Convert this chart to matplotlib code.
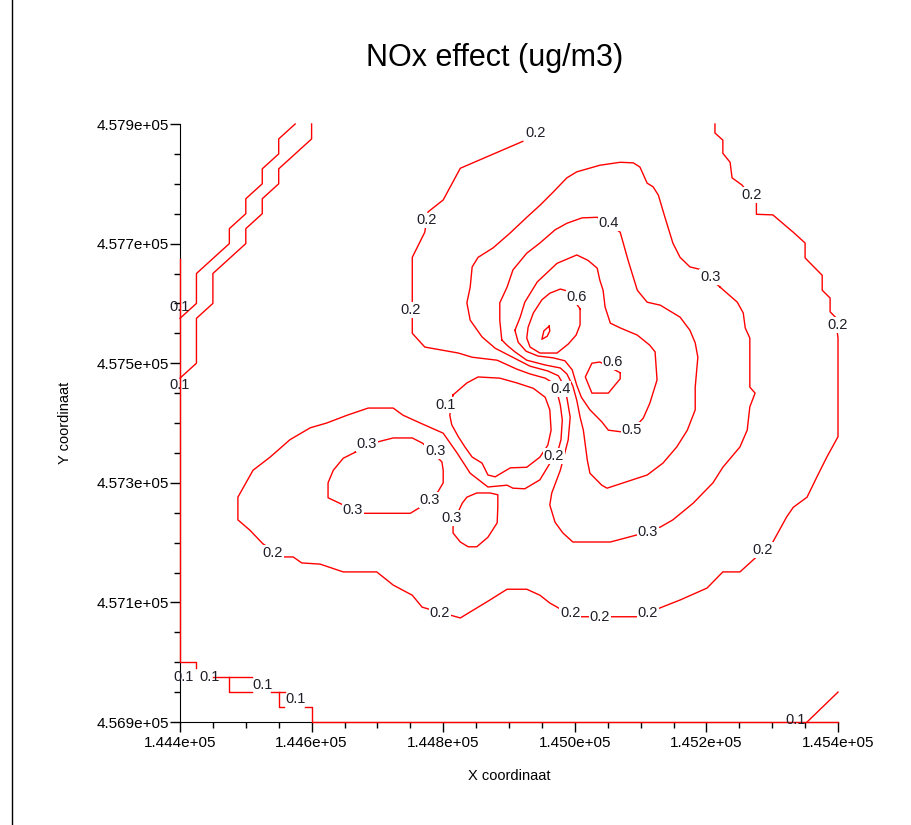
import numpy as np
import matplotlib.pyplot as plt
from matplotlib.ticker import FixedLocator, MultipleLocator, FuncFormatter
from matplotlib.lines import Line2D

plt.rcParams['font.family'] = ['Liberation Sans', 'DejaVu Sans']

# contour lines (X/Y in metres)
# 0.1 - two diagonal lines top left
c01a_x = [144400, 144425, 144425, 144440, 144475, 144475, 144500, 144500, 144525, 144525, 144550, 144550, 144575]
c01a_y = [457575, 457600, 457650, 457665, 457700, 457725, 457750, 457775, 457800, 457825, 457850, 457875, 457900]
c01b_x = [144400, 144425, 144425, 144450, 144450, 144500, 144500, 144525, 144525, 144550, 144550, 144575, 144600, 144600]
c01b_y = [457475, 457500, 457575, 457600, 457650, 457700, 457725, 457750, 457775, 457800, 457825, 457850, 457875, 457900]

# 0.1 - along the left edge and stairs at bottom left
c01c_x = [144400, 144400, 144425, 144425]
c01c_y = [457675, 457000, 457000, 456990]
c01d_x = [144450, 144510]
c01d_y = [456975, 456975]
c01e_x = [144475, 144475, 144510]
c01e_y = [456975, 456950, 456950]
c01f_x = [144539, 144560]
c01f_y = [456950, 456950]
c01g_x = [144550, 144550, 144558]
c01g_y = [456950, 456925, 456925]
c01h_x = [144590, 144600, 144600, 145400]
c01h_y = [456925, 456925, 456900, 456900]
c01i_x = [145353, 145400]
c01i_y = [456900, 456950]

# 0.1 - closed loop in the middle
c01_loop_x = [144815, 144836, 144853, 144886, 144912, 144937, 144955, 144962, 144964, 144959, 144947,
              144927, 144902, 144879, 144868, 144859, 144844, 144833, 144823, 144813, 144810, 144815]
c01_loop_y = [457447, 457467, 457477, 457475, 457467, 457458, 457443, 457422, 457388, 457363, 457343,
              457326, 457325, 457310, 457313, 457333, 457343, 457360, 457377, 457397, 457413, 457447]

# 0.2 - the long outer line
c02_x = [144921, 144826, 144800, 144777, 144772, 144753, 144753, 144753, 144772, 144823,
         144844, 144882, 144912, 144932, 144955, 144967, 144973, 144978, 144981, 144979,
         144975, 144958, 144947, 144924, 144906, 144897, 144868, 144841, 144821, 144800,
         144765, 144739, 144724, 144686, 144654, 144623, 144598, 144567, 144537, 144511,
         144488, 144488, 144506, 144526, 144557, 144572, 144585, 144613, 144648, 144699,
         144724, 144753, 144768, 144826, 144871, 144897, 144927, 144947, 144962, 144978,
         145000, 145099, 145130, 145160, 145201, 145225, 145251, 145271, 145301, 145322,
         145332, 145353, 145368, 145383, 145400, 145400, 145396, 145388, 145388, 145376,
         145376, 145350, 145350, 145332, 145301, 145276, 145276, 145254, 145239, 145236,
         145225, 145225, 145213, 145213]
c02_y = [457871, 457826, 457773, 457753, 457719, 457677, 457606, 457550, 457527, 457517,
         457510, 457505, 457490, 457482, 457475, 457467, 457452, 457430, 457405, 457372,
         457356, 457325, 457305, 457290, 457291, 457296, 457293, 457316, 457350, 457383,
         457400, 457413, 457425, 457425, 457413, 457400, 457392, 457372, 457343, 457321,
         457276, 457238, 457221, 457198, 457176, 457176, 457166, 457164, 457151, 457151,
         457129, 457112, 457092, 457074, 457104, 457122, 457122, 457112, 457099, 457089,
         457076, 457076, 457091, 457104, 457124, 457151, 457151, 457171, 457201, 457243,
         457259, 457276, 457310, 457343, 457377, 457542, 457577, 457586, 457609, 457622,
         457647, 457676, 457701, 457719, 457748, 457749, 457769, 457798, 457810, 457836,
         457851, 457873, 457885, 457900]

# 0.3 - left loop, small loop, big loop round the peaks
c03_left_x = [144666, 144699, 144724, 144753, 144769, 144798, 144800, 144800, 144792,
              144765, 144750, 144678, 144648, 144625, 144625, 144633, 144648, 144666]
c03_left_y = [457351, 457368, 457375, 457375, 457366, 457335, 457321, 457300, 457285,
              457259, 457249, 457249, 457263, 457275, 457300, 457321, 457341, 457351]
c03_small_x = [144815, 144815, 144826, 144838, 144851, 144868, 144882, 144883, 144883,
               144871, 144851, 144836, 144829, 144815]
c03_small_y = [457233, 457216, 457201, 457193, 457193, 457209, 457233, 457259, 457280,
               457283, 457283, 457276, 457266, 457233]
c03_x = [145221, 145247, 145256, 145259, 145266, 145266, 145274, 145266, 145262, 145251,
         145225, 145210, 145180, 145149, 145130, 145095, 145054, 144997, 144982, 144970,
         144962, 144965, 144978, 144990, 144993, 144988, 144984, 144975, 144959, 144932,
         144902, 144879, 144859, 144841, 144836, 144841, 144844, 144853, 144876, 144902,
         144927, 144947, 144967, 144988, 145003, 145038, 145069, 145089, 145099, 145110,
         145119, 145127, 145137, 145149, 145160, 145175, 145190, 145221]
c03_y = [457627, 457602, 457584, 457559, 457542, 457460, 457450, 457427, 457388, 457360,
         457326, 457300, 457266, 457238, 457226, 457213, 457201, 457201, 457216, 457234,
         457263, 457283, 457321, 457372, 457410, 457442, 457462, 457479, 457487, 457495,
         457512, 457525, 457544, 457572, 457601, 457627, 457661, 457677, 457693, 457718,
         457744, 457764, 457786, 457810, 457820, 457831, 457836, 457835, 457828, 457801,
         457795, 457781, 457744, 457701, 457677, 457661, 457657, 457627]

# 0.4
c04_x = [144889, 144897, 144909, 144927, 144955, 144978, 144988, 144997, 145003, 145008,
         145013, 145019, 145023, 145041, 145049, 145096, 145110, 145134, 145155, 145171,
         145183, 145183, 145187, 145183, 145175, 145160, 145130, 145110, 145095, 145081,
         145069, 145052, 145034, 145011, 144988, 144970, 144947, 144927, 144906, 144897,
         144886, 144886, 144889]
c04_y = [457539, 457530, 457519, 457505, 457497, 457492, 457482, 457462, 457438, 457410,
         457388, 457338, 457316, 457296, 457291, 457308, 457313, 457333, 457360, 457388,
         457422, 457460, 457510, 457534, 457555, 457577, 457597, 457602, 457622, 457672,
         457719, 457733, 457744, 457743, 457734, 457723, 457701, 457684, 457656, 457627,
         457601, 457572, 457539]

# 0.5
c05_x = [144909, 144914, 144926, 144944, 144967, 144985, 144996, 145003, 145010, 145023,
         145041, 145051, 145072, 145087, 145104, 145114, 145125, 145122, 145114, 145095,
         145069, 145054, 145046, 145043, 145038, 145034, 145020, 145003, 144973, 144943,
         144924, 144917, 144909]
c05_y = [457555, 457535, 457520, 457512, 457509, 457504, 457489, 457463, 457443, 457422,
         457402, 457388, 457385, 457388, 457408, 457433, 457472, 457519, 457530, 457547,
         457559, 457567, 457594, 457622, 457639, 457659, 457672, 457681, 457667, 457636,
         457602, 457577, 457555]

# 0.6 - two peaks, plus the small unlabelled ring on the upper one
c06a_x = [145008, 145008, 145002, 144990, 144973, 144947, 144932, 144927, 144929, 144937,
          144950, 144962, 144978, 144988, 145008]
c06a_y = [457591, 457564, 457547, 457532, 457517, 457517, 457527, 457542, 457560, 457584,
          457606, 457617, 457624, 457621, 457591]
c06b_x = [145069, 145069, 145051, 145026, 145016, 145026, 145038, 145069]
c06b_y = [457484, 457474, 457450, 457450, 457477, 457500, 457502, 457484]
c07_x = [144961, 144953, 144950, 144958, 144962, 144961]
c07_y = [457562, 457554, 457540, 457545, 457554, 457562]

lines = [(c01a_x, c01a_y), (c01b_x, c01b_y), (c01c_x, c01c_y), (c01d_x, c01d_y),
         (c01e_x, c01e_y), (c01f_x, c01f_y), (c01g_x, c01g_y), (c01h_x, c01h_y),
         (c01i_x, c01i_y), (c01_loop_x, c01_loop_y), (c02_x, c02_y),
         (c03_left_x, c03_left_y), (c03_small_x, c03_small_y), (c03_x, c03_y),
         (c04_x, c04_y), (c05_x, c05_y), (c06a_x, c06a_y), (c06b_x, c06b_y), (c07_x, c07_y)]

# inline labels (break the line)
lab_text = ['0.2', '0.2', '0.2', '0.2', '0.2', '0.2', '0.2', '0.2', '0.2', '0.2', '0.2', '0.2',
            '0.3', '0.3', '0.3', '0.3', '0.3', '0.3', '0.3',
            '0.4', '0.4', '0.5', '0.6', '0.6', '0.1']
lab_x = [144940, 144775, 144750, 145268, 145400, 145286, 145111, 145038, 144993, 144795, 144541, 144968,
         145206, 145111, 144684, 144788, 144780, 144663, 144813,
         145052, 144978, 145087, 145003, 145058, 144804]
lab_y = [457885, 457739, 457589, 457781, 457564, 457188, 457082, 457076, 457082, 457082, 457183, 457345,
         457644, 457218, 457365, 457353, 457271, 457254, 457241,
         457734, 457457, 457388, 457611, 457502, 457430]

# labels on the plot edges (line shows through)
edge_text = ['0.1', '0.1', '0.1', '0.1', '0.1', '0.1', '0.1']
edge_x = [144400, 144400, 144405, 144445, 144525, 144575, 145335]
edge_y = [457594, 457463, 456975, 456975, 456962, 456938, 456903]

# axis ticks
x_major = np.arange(144400, 145401, 200)
y_major = np.arange(456900, 457901, 200)

fig = plt.figure(figsize=(9.11, 8.25), dpi=100)
ax = fig.add_axes([180 / 911, 103 / 825, 658 / 911, 598 / 825])

for xs, ys in lines:
    ax.plot(xs, ys, color='red', linewidth=1, zorder=3, clip_on=False)

for t, x, y in zip(lab_text, lab_x, lab_y):
    ax.text(x, y, t, ha='center', va='center', fontsize=10.5, color='#1e1e28', zorder=4,
            bbox=dict(boxstyle='square,pad=0.05', facecolor='white', edgecolor='none'))
for t, x, y in zip(edge_text, edge_x, edge_y):
    ax.text(x, y, t, ha='center', va='center', fontsize=10.5, color='#1e1e28', zorder=4)

ax.set_xlim(144400, 145400)
ax.set_ylim(456900, 457900)
ax.xaxis.set_major_locator(FixedLocator(x_major))
ax.yaxis.set_major_locator(FixedLocator(y_major))
ax.xaxis.set_minor_locator(MultipleLocator(50))
ax.yaxis.set_minor_locator(MultipleLocator(50))
fmt = FuncFormatter(lambda v, p: '{:.3e}'.format(v))
ax.xaxis.set_major_formatter(fmt)
ax.yaxis.set_major_formatter(fmt)
ax.tick_params(which='major', length=7, width=1, labelsize=11, colors='black')
ax.tick_params(which='minor', length=4.5, width=1)
ax.tick_params(axis='x', which='major', pad=3)
ax.tick_params(axis='y', which='major', pad=1)

ax.spines['top'].set_visible(False)
ax.spines['right'].set_visible(False)

fig.text(495 / 911, 1 - 58 / 825, 'NOx effect (ug/m3)', fontsize=22, ha='center', va='center')
fig.text(509 / 911, 1 - 776 / 825, 'X coordinaat', fontsize=10.5, ha='center', va='center')
fig.text(65 / 911, 1 - 423 / 825, 'Y coordinaat', fontsize=10.5, ha='center', va='center', rotation=90)

# window border on the left
fig.add_artist(Line2D([12 / 911, 12 / 911], [0, 1], transform=fig.transFigure, color='black', linewidth=1))

fig.savefig('out.png', dpi=100)
